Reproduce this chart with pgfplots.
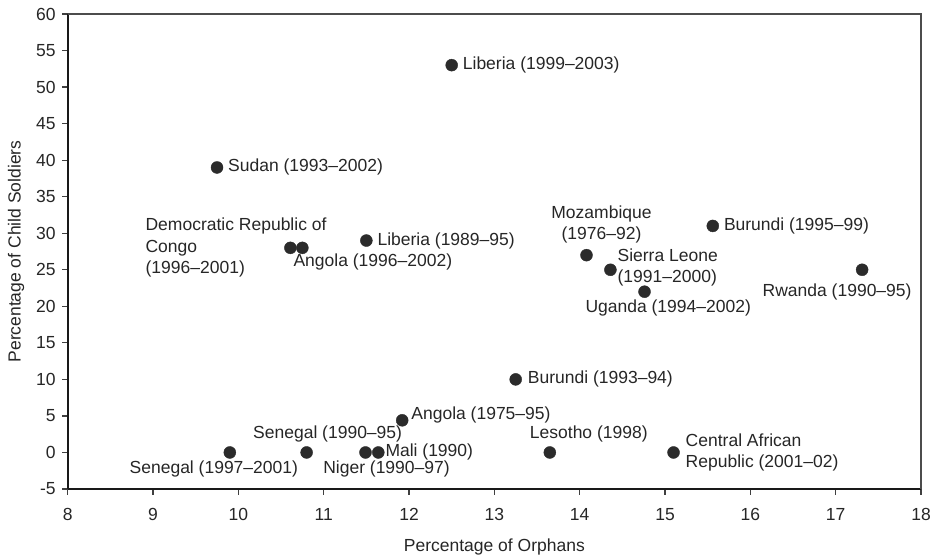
\documentclass[border=0pt]{standalone}
\usepackage{fontspec}
\setmainfont{Liberation Sans}
\usepackage{pgfplots}
\pgfplotsset{compat=1.18}
\definecolor{txt}{HTML}{262626}
\definecolor{dot}{HTML}{2B2B2B}
\newcommand{\lf}{\fontsize{17.5}{21.5}\selectfont}
\begin{document}
\begin{tikzpicture}[x=1pt,y=1pt,
  lab/.style={font=\lf, text=txt, inner sep=0pt}]
\path[use as bounding box] (0,0) rectangle (932,555);
\begin{axis}[
  at={(67.7pt,66pt)}, anchor=south west,
  scale only axis, width=853.3pt, height=475pt,
  xmin=8, xmax=18, ymin=-5, ymax=60,
  xtick={8,...,18}, ytick={-5,0,...,60},
  axis lines*=left,
  axis line style={-, line width=2.2pt, color=black!90},
  tick style={line width=1.3pt, color=black!75},
  major tick length=5.5pt, tick align=outside,
  /pgf/number format/assume math mode=true,
  ticklabel style={font=\lf, text=txt},
  xticklabel style={yshift=-10pt},
  yticklabel style={xshift=-3pt},
  xlabel={Percentage of Orphans},
  ylabel={Percentage of Child Soldiers},
  label style={font=\lf, text=txt},
  xlabel style={yshift=-12pt},
  ylabel style={yshift=5pt},
  clip=false,
]
\addplot[only marks, mark=*, mark size=6pt, color=dot] table {
x y
12.5 53
9.75 39
10.61 28
10.75 28
11.5 29
14.08 27
14.36 25
14.76 22
15.56 31
17.31 25
13.25 10
11.92 4.4
9.9 0
10.8 0
11.49 0
11.64 0
13.65 0
15.1 0
};
\draw[color=black!70, line width=1.3pt] (rel axis cs:0,1) -- (rel axis cs:1,1) -- (rel axis cs:1,0);

\node[lab, anchor=west, xshift=11pt] at (axis cs:12.5,53) {Liberia (1999–2003)};
\node[lab, anchor=west, xshift=11pt] at (axis cs:9.75,39) {Sudan (1993–2002)};
\node[lab, anchor=west, xshift=-145pt, align=left] at (axis cs:10.61,28) {Democratic Republic of\\Congo\\(1996–2001)};
\node[lab, anchor=west, xshift=-9pt, yshift=-14.4pt] at (axis cs:10.75,28) {Angola (1996–2002)};
\node[lab, anchor=west, xshift=11pt] at (axis cs:11.5,29) {Liberia (1989–95)};
\node[lab, anchor=center, xshift=15pt, yshift=30.7pt, align=center] at (axis cs:14.08,27) {Mozambique\\(1976–92)};
\node[lab, anchor=west, xshift=7pt, yshift=2.5pt, align=left] at (axis cs:14.36,25) {Sierra Leone\\(1991–2000)};
\node[lab, anchor=center, xshift=23.7pt, yshift=-16.3pt] at (axis cs:14.76,22) {Uganda (1994–2002)};
\node[lab, anchor=west, xshift=11pt] at (axis cs:15.56,31) {Burundi (1995–99)};
\node[lab, anchor=center, xshift=-25pt, yshift=-21.7pt] at (axis cs:17.31,25) {Rwanda (1990–95)};
\node[lab, anchor=west, xshift=12pt] at (axis cs:13.25,10) {Burundi (1993–94)};
\node[lab, anchor=west, xshift=9pt, yshift=5pt] at (axis cs:11.92,4.4) {Angola (1975–95)};
\node[lab, anchor=center, xshift=21pt, yshift=18pt] at (axis cs:10.8,0) {Senegal (1990–95)};
\node[lab, anchor=center, xshift=-16pt, yshift=-17pt] at (axis cs:9.9,0) {Senegal (1997–2001)};
\node[lab, anchor=center, xshift=21pt, yshift=-17pt] at (axis cs:11.49,0) {Niger (1990–97)};
\node[lab, anchor=west, xshift=7pt] at (axis cs:11.64,0) {Mali (1990)};
\node[lab, anchor=center, xshift=39pt, yshift=18pt] at (axis cs:13.65,0) {Lesotho (1998)};
\node[lab, anchor=west, xshift=12pt, align=left] at (axis cs:15.1,0) {Central African\\Republic (2001–02)};
\end{axis}
\end{tikzpicture}
\end{document}
